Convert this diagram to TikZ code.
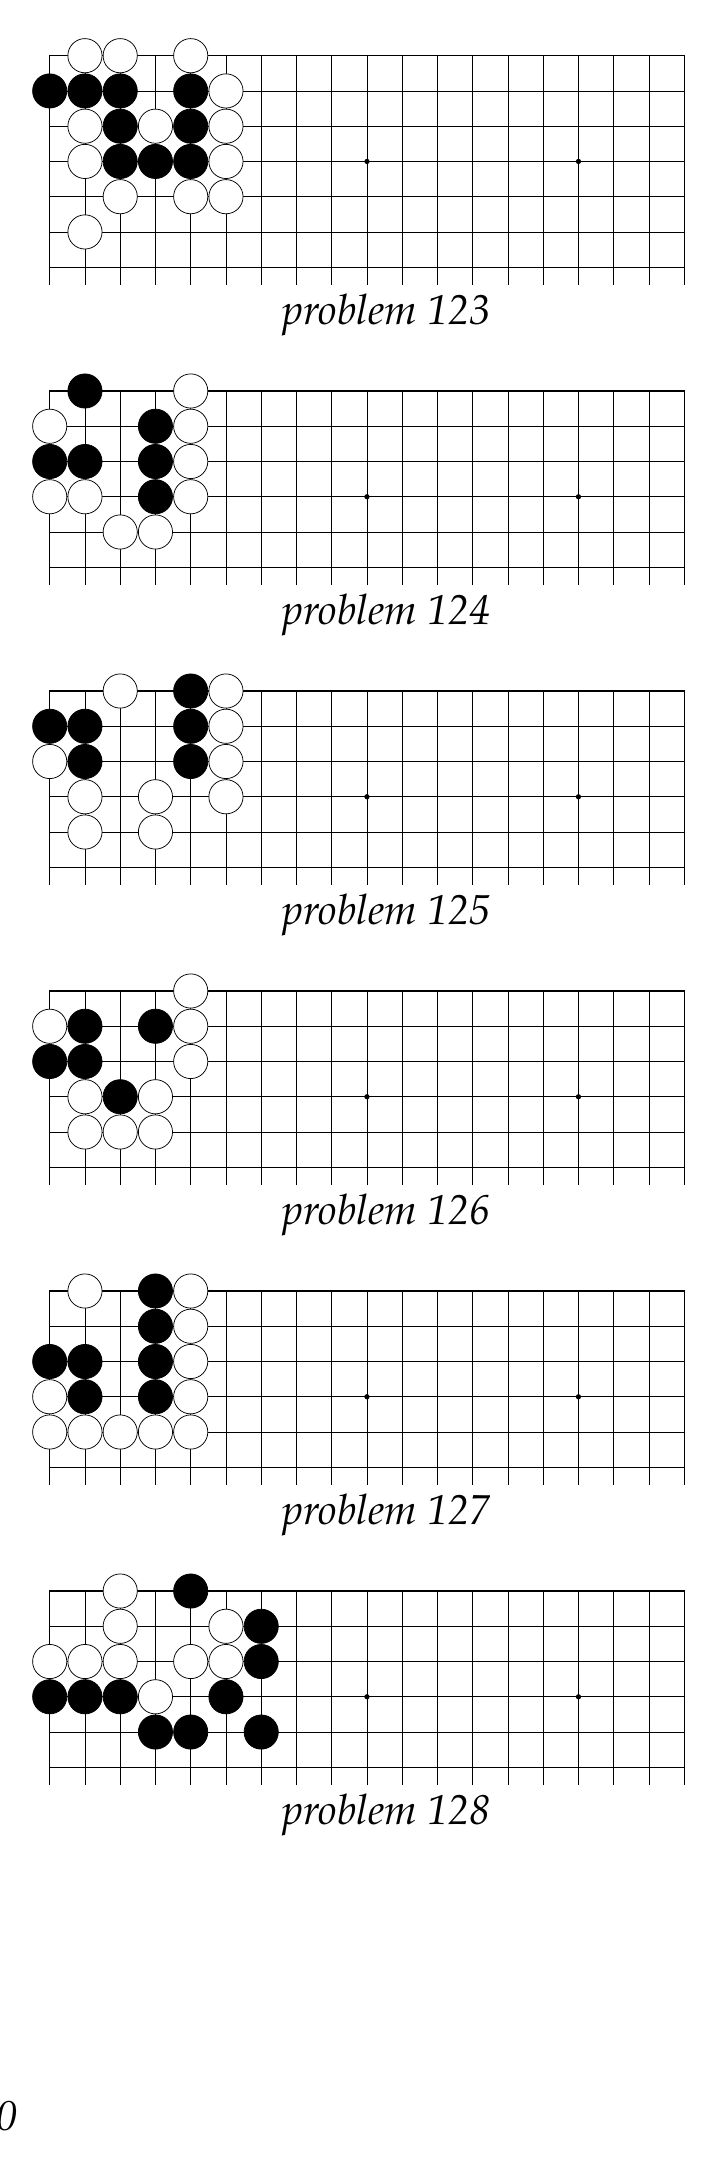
\documentclass[tikz,border=0pt]{standalone}
\usepackage[T1]{fontenc}
\usepackage{mathpazo}
\usepackage{tikz}

% board: columns 0..18, rows 0..#1, open at the bottom
\newcommand{\goboard}[1]{%
  \foreach \i in {1,...,17} \draw[gline] (\i,0) -- (\i,#1+0.5);
  \foreach \j in {1,...,#1} \draw[gline] (0,\j) -- (18,\j);
  \draw[edge] (0,#1+0.5) -- (0,0) -- (18,0) -- (18,#1+0.5);
  \foreach \s in {3,9,15} \fill (\s,3) circle (0.075);
}
\newcommand{\stones}[2]{%
  \foreach \c/\r in {#2} \draw[#1] (\c,\r) circle (0.485);
}

\begin{document}
\begin{tikzpicture}[x=1cm,y=-1cm,
  gline/.style={line width=0.55pt},
  edge/.style={line width=1.1pt},
  wstone/.style={draw=black,fill=white,line width=0.6pt},
  bstone/.style={draw=black,fill=black,line width=0.6pt},
  caption/.style={font=\fontsize{33.8}{40}\selectfont\itshape,anchor=base,inner sep=0pt}]
\useasboundingbox (0,0) rectangle (20.567,61.872);

\begin{scope}[shift={(1.41,1.58)}]
\goboard{6}
\stones{wstone}{1/0,2/0,4/0,5/1,1/2,3/2,5/2,1/3,5/3,2/4,4/4,5/4,1/5}
\stones{bstone}{0/1,1/1,2/1,4/1,2/2,4/2,2/3,3/3,4/3}
\end{scope}
\node[caption] (p123) at (10.962,9.211) {problem 123};

\begin{scope}[shift={(1.41,11.092)}]
\goboard{5}
\stones{wstone}{4/0,0/1,4/1,4/2,0/3,1/3,4/3,2/4,3/4}
\stones{bstone}{1/0,3/1,0/2,1/2,3/2,3/3}
\end{scope}
\node[caption] (p124) at (10.962,17.723) {problem 124};

\begin{scope}[shift={(1.41,19.603)}]
\goboard{5}
\stones{wstone}{2/0,5/0,5/1,0/2,5/2,1/3,3/3,5/3,1/4,3/4}
\stones{bstone}{4/0,0/1,1/1,4/1,1/2,4/2}
\end{scope}
\node[caption] (p125) at (10.962,26.234) {problem 125};

\begin{scope}[shift={(1.41,28.113)}]
\goboard{5}
\stones{wstone}{4/0,0/1,4/1,4/2,1/3,3/3,1/4,2/4,3/4}
\stones{bstone}{1/1,3/1,0/2,1/2,2/3}
\end{scope}
\node[caption] (p126) at (10.962,34.744) {problem 126};

\begin{scope}[shift={(1.41,36.624)}]
\goboard{5}
\stones{wstone}{1/0,4/0,4/1,4/2,0/3,4/3,0/4,1/4,2/4,3/4,4/4}
\stones{bstone}{3/0,3/1,0/2,1/2,3/2,1/3,3/3}
\end{scope}
\node[caption] (p127) at (10.962,43.255) {problem 127};

\begin{scope}[shift={(1.41,45.135)}]
\goboard{5}
\stones{wstone}{2/0,2/1,5/1,0/2,1/2,2/2,4/2,5/2,3/3}
\stones{bstone}{4/0,6/1,6/2,0/3,1/3,2/3,5/3,3/4,4/4,6/4}
\end{scope}
\node[caption] (p128) at (10.962,51.766) {problem 128};

\node[caption,anchor=base east] (pageno) at (0.5,60.45) {0};
\end{tikzpicture}
\end{document}
